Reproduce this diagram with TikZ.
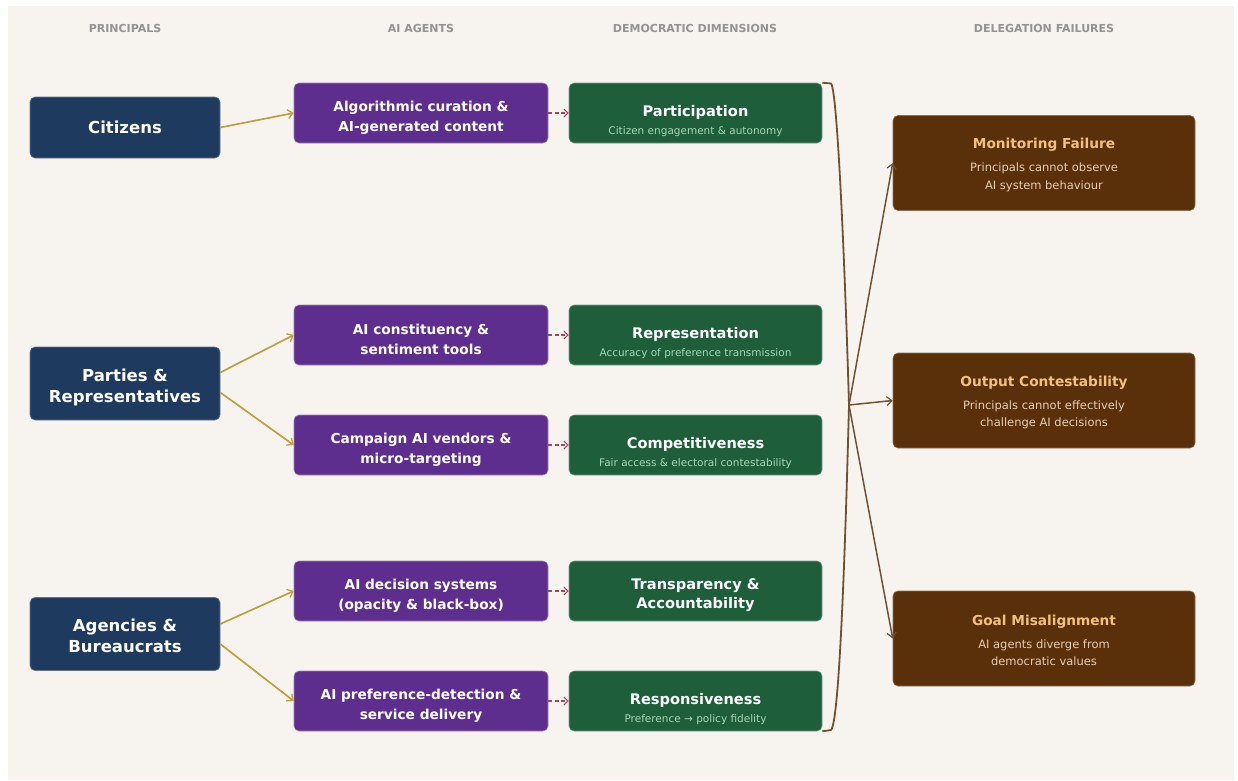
\documentclass[tikz,border=0pt]{standalone}
\usepackage{fontspec}
\setmainfont{DejaVu Sans}
\usetikzlibrary{arrows.meta}
\definecolor{bg}{HTML}{F7F4EF}
\definecolor{navy}{HTML}{1F3A5F}
\definecolor{purp}{HTML}{5E2E8E}
\definecolor{grn}{HTML}{1E5E3B}
\definecolor{brn}{HTML}{5A300A}
\definecolor{hdr}{HTML}{959391}
\definecolor{dimsub}{HTML}{A6D8B6}
\definecolor{ftitle}{HTML}{F2C27C}
\definecolor{fsub}{HTML}{E8CFB2}
\definecolor{gold}{HTML}{BFA040}
\definecolor{maroon}{HTML}{A8455E}
\definecolor{barr}{HTML}{6E5232}
\newcommand{\dsub}[1]{\\[-2pt]{\fontsize{10.5}{12}\selectfont\mdseries\color{dimsub}#1}}
\newcommand{\fsubt}[2]{\\[5pt]{\fontsize{11.5}{18}\selectfont\mdseries\color{fsub}#1}\\[-0.5pt]{\fontsize{11.5}{18}\selectfont\mdseries\color{fsub}#2}}
\begin{document}
\begin{tikzpicture}[x=1pt,y=-1pt,
  box/.style={rounded corners=5pt, inner sep=0pt, line width=0.6pt},
  txt/.style={inner sep=0pt, align=center, text=white},
  princ/.style={box, fill=navy, draw=navy!70!white, minimum width=190pt},
  ptxt/.style={txt, font=\fontsize{16.5}{21.5}\bfseries},
  agent/.style={box, fill=purp, draw=purp!60!white, minimum width=254pt, minimum height=60pt},
  atxt/.style={txt, yshift=-4.5pt, font=\fontsize{13.7}{20}\bfseries},
  dimbox/.style={box, fill=grn, draw=grn!60!white, minimum width=253pt, minimum height=60pt},
  dtxt/.style={txt, font=\fontsize{14.6}{19.5}\bfseries},
  fail/.style={box, fill=brn, draw=brn!70!white, minimum width=302pt, minimum height=95pt},
  ftxt/.style={txt, yshift=-2pt, font=\fontsize{13.7}{18}\bfseries, text=ftitle},
  hdrtxt/.style={text=hdr, font=\fontsize{11}{12}\bfseries},
  parr/.style={draw=gold, line width=1.7pt, -{Straight Barb[length=5pt,width=9pt,line width=1.3pt]}},
  darr/.style={draw=maroon, line width=1.2pt, dash pattern=on 4pt off 2.5pt, -{Straight Barb[length=4pt,width=8pt,line width=1.1pt]}},
  farr/.style={draw=barr, line width=1.5pt, -{Straight Barb[length=5pt,width=9pt,line width=1.2pt]}},
]
\useasboundingbox (0,0) rectangle (1238,780);
\fill[white] (0,0) rectangle (1238,780);
\fill[bg] (8,6) rectangle (1234,780);

% headers
\node[hdrtxt] (h1) at (125,28) {PRINCIPALS};
\node[hdrtxt] (h2) at (421,28) {AI AGENTS};
\node[hdrtxt] (h3) at (695,28) {DEMOCRATIC DIMENSIONS};
\node[hdrtxt] (h4) at (1044,28) {DELEGATION FAILURES};

% principals
\node[princ, minimum height=61pt, label={[ptxt]center:Citizens}] (p1) at (125,127.5) {};
\node[princ, minimum height=73pt, label={[ptxt, yshift=-4pt]center:Parties \&\\Representatives}] (p2) at (125,383.5) {};
\node[princ, minimum height=73pt, label={[ptxt, yshift=-2pt]center:Agencies \&\\Bureaucrats}] (p3) at (125,634) {};

% agents
\node[agent, label={[atxt]center:Algorithmic curation \&\\AI-generated content}] (a1) at (421,113) {};
\node[agent, label={[atxt]center:AI constituency \&\\sentiment tools}] (a2) at (421,335) {};
\node[agent, label={[atxt]center:Campaign AI vendors \&\\micro-targeting}] (a3) at (421,445) {};
\node[agent, label={[atxt]center:AI decision systems\\(opacity \& black-box)}] (a4) at (421,591) {};
\node[agent, label={[atxt]center:AI preference-detection \&\\service delivery}] (a5) at (421,701) {};

% dimensions
\node[dimbox, label={[dtxt, yshift=-8pt]center:Participation\dsub{Citizen engagement \& autonomy}}] (d1) at (695.5,113) {};
\node[dimbox, label={[dtxt, yshift=-8pt]center:Representation\dsub{Accuracy of preference transmission}}] (d2) at (695.5,335) {};
\node[dimbox, label={[dtxt, yshift=-8pt]center:Competitiveness\dsub{Fair access \& electoral contestability}}] (d3) at (695.5,445) {};
\node[dimbox, label={[dtxt, yshift=-4pt]center:Transparency \&\\Accountability}] (d4) at (695.5,591) {};
\node[dimbox, label={[dtxt, yshift=-8pt]center:Responsiveness\dsub{Preference → policy fidelity}}] (d5) at (695.5,701) {};

% failures
\node[fail, label={[ftxt]center:Monitoring Failure\fsubt{Principals cannot observe}{AI system behaviour}}] (f1) at (1044,163) {};
\node[fail, label={[ftxt]center:Output Contestability\fsubt{Principals cannot effectively}{challenge AI decisions}}] (f2) at (1044,400.5) {};
\node[fail, label={[ftxt]center:Goal Misalignment\fsubt{AI agents diverge from}{democratic values}}] (f3) at (1044,638.5) {};

% principal -> agent
\draw[parr] (p1.east) -- (a1.west);
\draw[parr] ([yshift=11pt]p2.east) -- (a2.west);
\draw[parr] ([yshift=-9pt]p2.east) -- (a3.west);
\draw[parr] ([yshift=10pt]p3.east) -- (a4.west);
\draw[parr] ([yshift=-10pt]p3.east) -- (a5.west);

% agent -> dimension
\draw[darr] (a1.east) -- (d1.west);
\draw[darr] (a2.east) -- (d2.west);
\draw[darr] (a3.east) -- (d3.west);
\draw[darr] (a4.east) -- (d4.west);
\draw[darr] (a5.east) -- (d5.west);

% brace
\coordinate (bm) at (849,405);
\draw[barr, line width=1.8pt, line join=round] (d1.north east) -- (831,83.5) .. controls (838,90) and (846,300) .. (bm) .. controls (846,520) and (840,722) .. (831,730) -- (d5.south east);

% brace -> failures
\draw[farr] (bm) -- (f1.west);
\draw[farr] (bm) -- (f2.west);
\draw[farr] (bm) -- (f3.west);
\end{tikzpicture}
\end{document}
